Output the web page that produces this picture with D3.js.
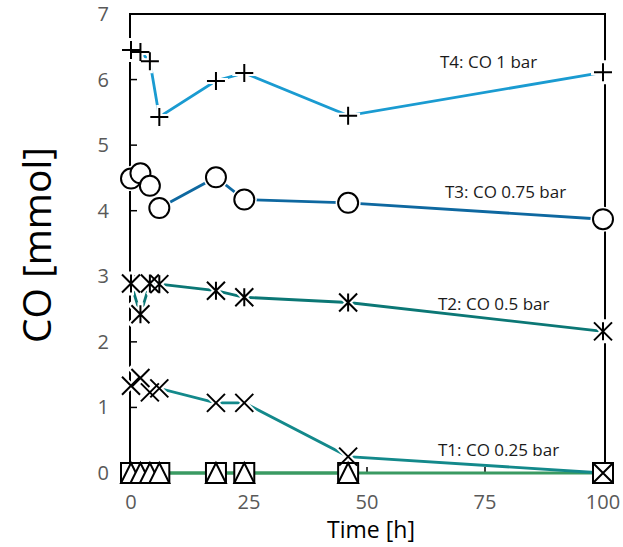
<!DOCTYPE html>
<html>
<head>
<meta charset="utf-8">
<script src="https://cdn.jsdelivr.net/npm/d3@7"></script>
<style>
  body { margin: 0; background: #fff; }
  svg text { font-family: "Open Sans", "Noto Sans", sans-serif; }
  .tick-label { fill: #595959; font-size: 20px; }
</style>
</head>
<body>
<svg id="chart" width="623" height="547"></svg>
<script>
// sampling times [h]
var times = [0, 2, 4, 6, 18, 24, 46, 100];

// CO amount [mmol] per run
var t4Values = [6.45, 6.42, 6.28, 5.43, 5.98, 6.10, 5.45, 6.11];
var t3Values = [4.49, 4.57, 4.38, 4.04, 4.51, 4.17, 4.12, 3.87];
var t2Values = [2.89, 2.42, 2.89, 2.88, 2.78, 2.68, 2.60, 2.16];
var t1Values = [1.33, 1.45, 1.23, 1.29, 1.07, 1.07, 0.25, 0.0];
var blankSquares = [0, 0, 0, 0, 0, 0, 0, 0];
var blankTriangles = [0, 0, 0, 0, 0, 0, 0];

var seriesNames = ["T4: CO 1 bar", "T3: CO 0.75 bar", "T2: CO 0.5 bar", "T1: CO 0.25 bar"];
var xTicks = [0, 25, 50, 75, 100];
var yTicks = [0, 1, 2, 3, 4, 5, 6, 7];

var svg = d3.select("#chart");
var x = d3.scaleLinear().domain([0, 100]).range([131, 603]);
var y = d3.scaleLinear().domain([0, 7]).range([473, 14]);

// frame
var frame = svg.append("g");
frame.append("path")
  .attr("d", "M" + 130 + "," + y(0) + "V" + y(7) + "H" + 605 + "V" + y(0))
  .attr("fill", "none").attr("stroke", "#000").attr("stroke-width", 2);
frame.append("line")
  .attr("x1", 130).attr("x2", 605).attr("y1", y(0)).attr("y2", y(0))
  .attr("stroke", "#000").attr("stroke-width", 1);

// y ticks, inward
frame.selectAll(".ytick").data(yTicks.slice(1, 7)).enter()
  .append("line")
  .attr("x1", 130).attr("x2", 137)
  .attr("y1", function(d) { return y(d); })
  .attr("y2", function(d) { return y(d); })
  .attr("stroke", "#000").attr("stroke-width", 1.5);

frame.selectAll(".ylab").data(yTicks).enter()
  .append("text")
  .attr("class", "tick-label")
  .attr("x", 109).attr("text-anchor", "end")
  .attr("y", function(d) { return y(d); })
  .attr("dy", "0.35em")
  .text(function(d) { return d; });

// x ticks, inward
frame.selectAll(".xtick").data(xTicks.slice(1, 4)).enter()
  .append("line")
  .attr("x1", function(d) { return x(d); })
  .attr("x2", function(d) { return x(d); })
  .attr("y1", y(0)).attr("y2", y(0) - 6)
  .attr("stroke", "#000").attr("stroke-width", 1.5);

frame.selectAll(".xlab").data(xTicks).enter()
  .append("text")
  .attr("class", "tick-label")
  .attr("x", function(d) { return x(d); })
  .attr("y", 502).attr("dy", "0.35em")
  .attr("text-anchor", "middle")
  .text(function(d) { return d; });

svg.append("text")
  .attr("x", 371).attr("y", 530).attr("dy", "0.35em")
  .attr("text-anchor", "middle")
  .attr("font-size", 23).attr("fill", "#000")
  .text("Time [h]");

svg.append("text")
  .attr("transform", "translate(37,245) rotate(-90)")
  .attr("dy", "0.35em")
  .attr("text-anchor", "middle")
  .attr("font-size", 39).attr("fill", "#000")
  .text("CO [mmol]");

// series
var series = [
  { vals: blankSquares, color: "#3a9a62", marker: "square" },
  { vals: blankTriangles, color: "#3a9a62", marker: "triangle" },
  { vals: t1Values, color: "#13898b", marker: "cross" },
  { vals: t2Values, color: "#0b7775", marker: "star" },
  { vals: t3Values, color: "#0e68a0", marker: "circle" },
  { vals: t4Values, color: "#1a9bd1", marker: "plus" }
];

var line = d3.line()
  .x(function(d, i) { return x(times[i]); })
  .y(function(d) { return y(d); });

var linesG = svg.append("g");
series.forEach(function(s) {
  linesG.append("path")
    .datum(s.vals)
    .attr("d", line)
    .attr("fill", "none")
    .attr("stroke", s.color)
    .attr("stroke-width", 2.8);
});

function markerPath(type) {
  var h = 9, b = 10;
  if (type === "plus") return "M" + -h + ",0H" + h + "M0," + -h + "V" + h;
  if (type === "cross") return "M" + -h + "," + -h + "L" + h + "," + h + "M" + -h + "," + h + "L" + h + "," + -h;
  if (type === "star") return "M" + -h + "," + -h + "L" + h + "," + h + "M" + -h + "," + h + "L" + h + "," + -h + "M0," + -h + "V" + h;
  if (type === "square") return "M" + -b + "," + -b + "H" + b + "V" + b + "H" + -b + "Z";
  if (type === "triangle") return "M0," + -b + "L" + b + "," + b + "H" + -b + "Z";
  return null;
}

// white halos first, so lines break round the markers
var haloG = svg.append("g");
var markG = svg.append("g");
series.forEach(function(s) {
  var filled = s.marker === "square" || s.marker === "triangle";
  var place = function(d, i) { return "translate(" + x(times[i]) + "," + y(d) + ")"; };
  if (s.marker === "circle") {
    haloG.selectAll(null).data(s.vals).enter()
      .append("circle").attr("transform", place)
      .attr("r", 12.5).attr("fill", "#fff");
  } else if (!filled) {
    haloG.selectAll(null).data(s.vals).enter()
      .append("path").attr("transform", place)
      .attr("d", markerPath(s.marker))
      .attr("fill", "none").attr("stroke", "#fff")
      .attr("stroke-width", 6).attr("stroke-linecap", "square");
  }
  var pts = markG.append("g").selectAll("g").data(s.vals).enter()
    .append("g").attr("transform", place);
  if (s.marker === "circle") {
    pts.append("circle").attr("r", 10)
      .attr("fill", "#fff").attr("stroke", "#000").attr("stroke-width", 2);
  } else {
    pts.append("path").attr("d", markerPath(s.marker))
      .attr("fill", filled ? "#fff" : "none")
      .attr("stroke", "#000").attr("stroke-width", 2);
  }
});

// series labels
var labelPos = [[440, 62], [445, 192], [438, 304], [438, 450]];
svg.append("g").selectAll("text").data(seriesNames).enter()
  .append("text")
  .attr("x", function(d, i) { return labelPos[i][0]; })
  .attr("y", function(d, i) { return labelPos[i][1]; })
  .attr("dy", "0.35em")
  .attr("font-size", 17).attr("fill", "#1a1a1a")
  .text(function(d) { return d; });
</script>
</body>
</html>
